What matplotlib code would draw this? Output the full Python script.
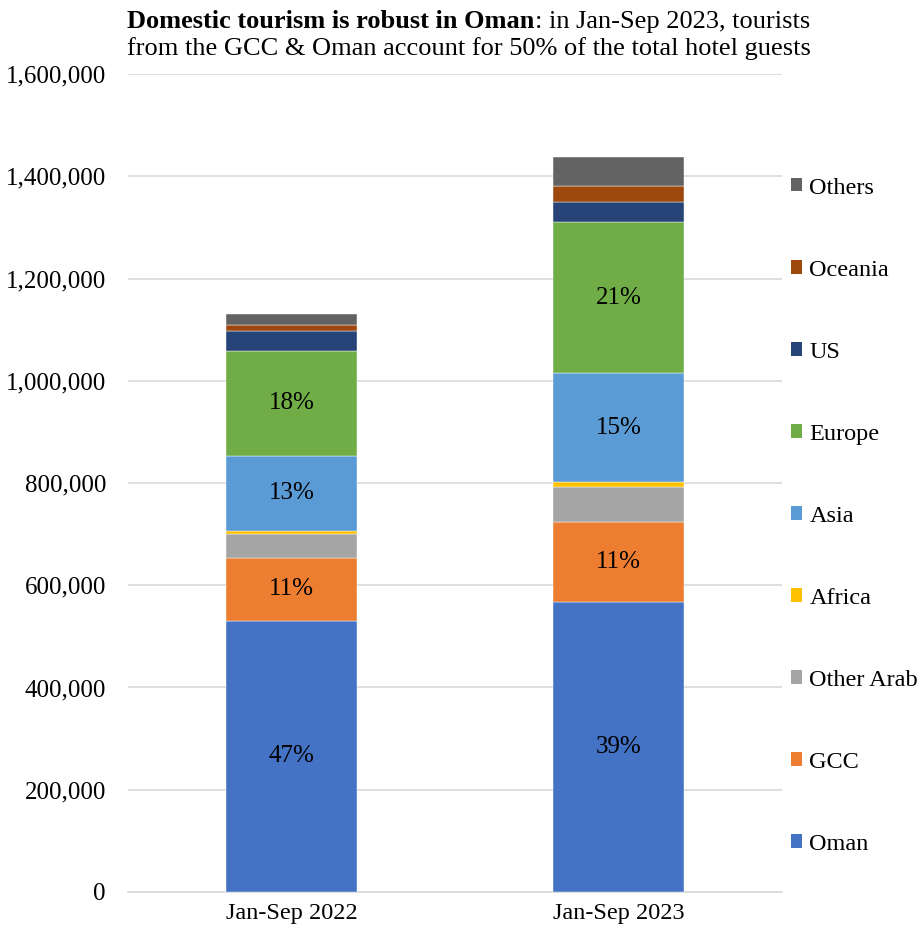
import matplotlib

matplotlib.use("Agg")
import matplotlib.pyplot as plt
import numpy as np
from matplotlib.patches import Patch
from matplotlib.ticker import FuncFormatter

plt.rcParams["font.family"] = ["Liberation Serif", "DejaVu Serif"]

periods = ["Jan-Sep 2022", "Jan-Sep 2023"]
regions = ["Oman", "GCC", "Other Arab", "Africa", "Asia", "Europe", "US", "Oceania", "Others"]
oman = [530700, 567800]
gcc = [123200, 156500]
other_arab = [47100, 68500]
africa = [5900, 8600]
asia = [146100, 213200]
europe = [205900, 295300]
us = [39200, 40300]
oceania = [11100, 30700]
others = [20900, 57400]
labelled = ["Oman", "GCC", "Asia", "Europe"]

colors = ["#4472C4", "#ED7D31", "#A5A5A5", "#FFC000", "#5B9BD5",
          "#70AD47", "#264478", "#9E480E", "#636363"]

series = [oman, gcc, other_arab, africa, asia, europe, us, oceania, others]
totals = np.sum(np.array(series, dtype=float), axis=0)

fig = plt.figure(figsize=(9.22, 9.3), dpi=100)
ax = fig.add_axes([0.139, 0.0409, 0.709, 0.8795])

x = np.arange(len(periods))
bottom = np.zeros(len(periods))
for name, vals, col in zip(regions, series, colors):
    vals = np.array(vals, dtype=float)
    ax.bar(x, vals, width=0.4, bottom=bottom, color=col, edgecolor="white",
           linewidth=0.3, zorder=3)
    if name in labelled:
        for xi, b, v, t in zip(x, bottom, vals, totals):
            ax.text(xi, b + v / 2, f"{v / t:.0%}", ha="center", va="center",
                    fontsize=18, color="black", zorder=4)
    bottom += vals

ax.set_xlim(-0.5, 1.5)
ax.set_ylim(0, 1600000)
ax.set_yticks(np.arange(0, 1600001, 200000))
ax.yaxis.set_major_formatter(FuncFormatter(lambda v, p: f"{int(v):,}"))
ax.set_xticks(x)
ax.set_xticklabels(periods)
ax.tick_params(axis="y", length=0, pad=16, labelsize=18)
ax.tick_params(axis="x", length=0, pad=8, labelsize=17.5)
ax.grid(axis="y", color="#D9D9D9", linewidth=1.2, zorder=0)
for s in ["top", "right", "left"]:
    ax.spines[s].set_visible(False)
ax.spines["bottom"].set_color("#D9D9D9")
ax.spines["bottom"].set_linewidth(1.2)

handles = [Patch(facecolor=c, label=r) for r, c in zip(regions, colors)][::-1]
fig.legend(handles=handles, loc="center left", bbox_to_anchor=(0.858, 0.445),
           frameon=False, fontsize=17.5, handlelength=0.45, handleheight=0.45,
           handletextpad=0.3, labelspacing=2.51, borderpad=0, borderaxespad=0)

t1 = fig.text(0.138, 0.989, "Domestic tourism is robust in Oman", fontsize=19,
              fontweight="bold", ha="left", va="top")
ax.annotate(": in Jan-Sep 2023, tourists", xy=(1, 0), xycoords=t1,
            ha="left", va="bottom", fontsize=19, annotation_clip=False)
fig.text(0.138, 0.960, "from the GCC & Oman account for 50% of the total hotel guests",
         fontsize=19, ha="left", va="top")

fig.savefig("out.png", dpi=100)
plt.close(fig)
